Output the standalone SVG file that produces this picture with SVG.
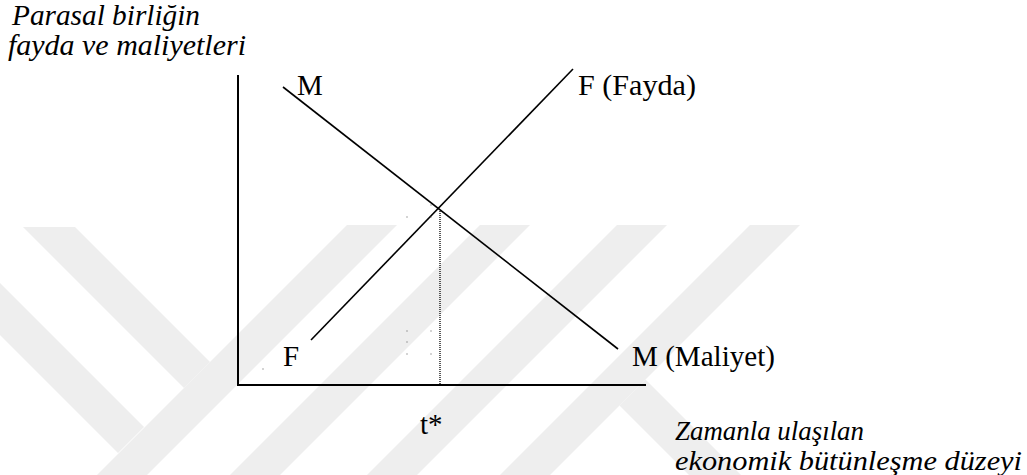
<svg xmlns="http://www.w3.org/2000/svg" width="1027" height="475" viewBox="0 0 1027 475">
<style>
.wm{fill:#eeeeee;stroke:none}
.ax{stroke:#000;stroke-width:2;fill:none}
.cv{stroke:#000;stroke-width:1.6;fill:none}
.dot{stroke:#000;stroke-width:1.3;stroke-dasharray:1 1;fill:none}
.t{font-family:"Liberation Serif","Times New Roman",serif;fill:#000;font-size:29px}
.i{font-style:italic}
.b{font-size:28px}
.sp{fill:#555}
</style>
<rect width="1027" height="475" fill="#fff"/>
<g id="watermark">
<polygon class="wm" points="23,227 75,227 210,362 184,388"/>
<polygon class="wm" points="0,283 144,427 118,453 0,335"/>
<polygon class="wm" points="347,225 397,225 147,475 97,475"/>
<polygon class="wm" points="480,225 530,225 280,475 230,475"/>
<polygon class="wm" points="617,225 667,225 417,475 367,475"/>
<polygon class="wm" points="750,225 800,225 550,475 500,475"/>
<polygon class="wm" points="645.5,379.5 741,475 689,475 619.5,405.5"/>
</g>
<g id="axes">
<line class="ax" x1="238" y1="75" x2="238" y2="386"/>
<line class="ax" x1="237" y1="385" x2="646" y2="385"/>
</g>
<g id="connectors">
<line id="M-curve" class="cv" x1="283" y1="87" x2="618" y2="349"/>
<line id="F-curve" class="cv" x1="311" y1="340" x2="573" y2="69"/>
<line id="t-drop" class="dot" x1="440" y1="211" x2="440" y2="385"/>
</g>
<g id="specks">
<rect class="sp" x="406.5" y="216.5" width="1" height="1"/>
<rect class="sp" x="430.5" y="216.5" width="1" height="1"/>
<rect class="sp" x="430.5" y="204.5" width="1" height="1"/>
<rect class="sp" x="406.5" y="330.5" width="1" height="1"/>
<rect class="sp" x="430.5" y="330.5" width="1" height="1"/>
<rect class="sp" x="406.5" y="341.5" width="1" height="1"/>
<rect class="sp" x="406.5" y="353.5" width="1" height="1"/>
<rect class="sp" x="430.5" y="353.5" width="1" height="1"/>
<rect class="sp" x="262.5" y="368.5" width="1" height="1"/>
</g>
<g id="ylabel"><text class="t i" x="12" y="25" textLength="188" lengthAdjust="spacingAndGlyphs">Parasal birliğin</text><text class="t i" x="8" y="55" textLength="238" lengthAdjust="spacingAndGlyphs">fayda ve maliyetleri</text></g>
<g id="label-M-top"><text class="t" x="297" y="95">M</text></g>
<g id="label-F-top"><text class="t" x="578" y="95" textLength="118" lengthAdjust="spacingAndGlyphs">F (Fayda)</text></g>
<g id="label-F-bottom"><text class="t" x="283" y="366">F</text></g>
<g id="label-M-bottom"><text class="t" x="632" y="366" textLength="143" lengthAdjust="spacingAndGlyphs">M (Maliyet)</text></g>
<g id="label-t"><text class="t" x="420" y="434">t*</text></g>
<g id="xlabel"><text class="t i b" x="675" y="440" textLength="189" lengthAdjust="spacingAndGlyphs">Zamanla ulaşılan</text><text class="t i b" x="675" y="470" textLength="347" lengthAdjust="spacingAndGlyphs">ekonomik bütünleşme düzeyi</text></g>
</svg>
